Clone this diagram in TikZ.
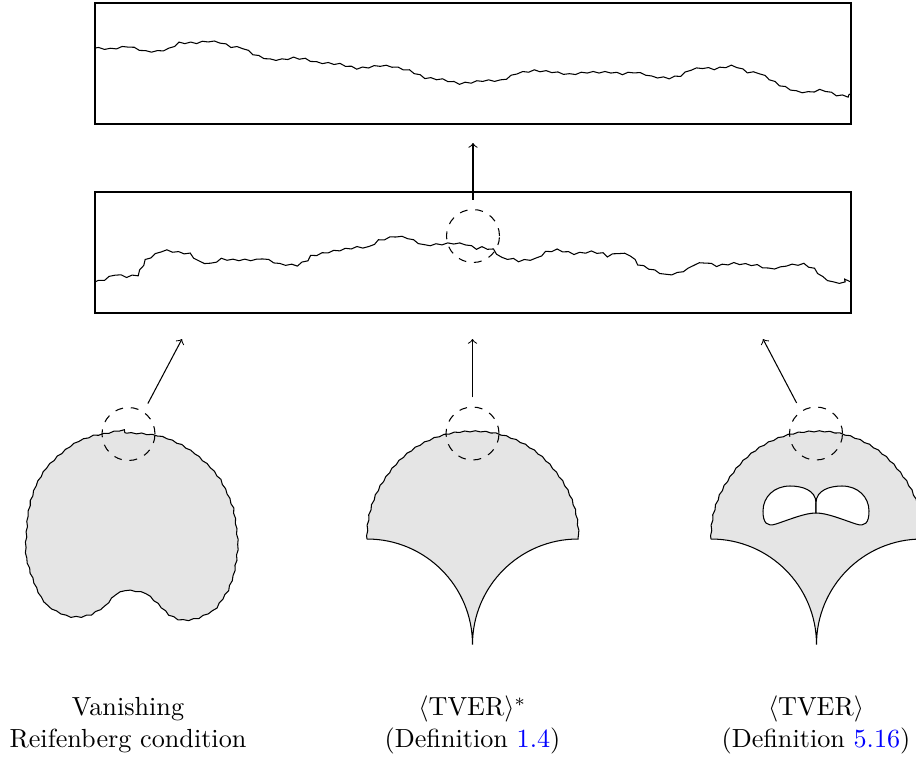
\documentclass[tikz,border=0pt]{standalone}
\usepackage{amsmath}
\usepackage{xcolor}
\usetikzlibrary{decorations.pathmorphing,positioning}
\newcommand{\px}{0.382pt}
\tikzset{
  every node/.style={
    font=\normalsize
  },
  panel/.style={
    shape=rectangle,
    draw,
    inner sep=0pt,
    minimum width={756*\px},
    minimum height={121*\px}
  },
  lens/.style={
    shape=circle,
    draw,
    dashed,
    inner sep=0pt,
    minimum size={53*\px}
  },
  zoomarrow/.style={
    ->,
    shorten <=3.5pt
  },
  region/.style={
    draw,
    fill=black!10
  },
  graphwiggle/.style={
    decoration={snake, amplitude=0.3pt, segment length=4.5pt}
  },
  edgewiggle/.style={
    decoration={snake, amplitude=0.2pt, segment length=4pt}
  },
  caption/.style={
    align=center,
    anchor=base,
    inner sep=0pt
  }
}

\begin{document}
\begin{tikzpicture}[x=\px, y=-\px]
\useasboundingbox (0,0) rectangle (916,758);

\node [panel] (topPanel) at (473,63.5) {};
\node [panel] (midPanel) at (473,252.5) {};

\draw [decorate, graphwiggle] plot coordinates {
  (95,48) (110,49) (123,47) (140,52) (153,52) (167,49) (177,43) (193,43)
  (207,41) (217,42) (227,46) (237,47) (247,53) (257,57) (267,60) (277,60)
  (290,58) (300,59) (310,62) (337,64) (353,68) (363,67) (377,65) (390,66)
  (407,70) (420,76) (440,78) (457,82) (467,81) (480,79) (497,79) (505,76)
  (513,72) (533,69) (547,70) (567,73) (583,71) (610,71) (617,72) (630,70)
  (640,72) (650,76) (663,77) (677,74) (687,68) (700,66) (710,67) (727,64)
  (733,65) (743,70) (757,71) (767,77) (777,83) (790,88) (803,89) (813,87)
  (823,88) (833,92) (851,94)};

\draw [decorate, graphwiggle] plot coordinates {
  (95,282) (103,280) (113,275) (123,277) (137,275) (145,260) (157,253)
  (167,252) (180,254) (188,255) (197,263) (207,265) (220,259) (233,260)
  (253,260) (263,257) (277,262) (293,263) (303,258) (310,250) (323,247)
  (340,244) (353,242) (367,242) (377,235) (393,231) (407,233) (420,239)
  (433,238) (447,237) (460,238) (470,242) (480,240) (490,242) (498,250)
  (508,251) (517,254) (533,252) (543,245) (553,243) (570,247) (587,245)
  (600,247) (607,251) (617,248) (627,250) (637,262) (650,267) (660,271)
  (673,269) (683,265) (690,259) (700,257) (713,261) (727,259) (750,261)
  (763,265) (773,264) (783,260) (797,259) (810,265) (817,272) (827,277)
  (840,277) (851,282)};

% vanishing Reifenberg set
\path [region, decorate, edgewiggle] plot coordinates {
  (128,433) (141,433.5) (153,435) (167,439) (180,445) (191,452) (200,460)
  (209,468) (217,478) (224,492) (230,507) (233,525) (235,543) (233,561)
  (230,577) (226,588) (220,597) (214,606) (207,612) (197,617) (187,619)
  (180,619) (173,618) (163,613) (153,603) (143,594) (133,592) (122,591)
  (113,595) (106,603) (100,610) (90,616) (77,619) (68,619) (60,617) (51,613)
  (43,608) (37,600) (32,590) (27,577) (23,563) (22,548) (23,533) (24,518)
  (27,503) (31,491) (37,480) (44,469) (53,460) (64,451) (77,443) (88,439)
  (100,437) (114,434) (128,433)};

% TVER* set
\path [region] decorate [edgewiggle] {
    plot [domain=180:360, samples=61] ({472.5+105.5*cos(\x)}, {539+105.5*sin(\x)}) }
  arc [start angle=270, end angle=180, radius=105.5]
  arc [start angle=0, end angle=-90, radius=105.5];

% TVER set with holes
\path [region] decorate [edgewiggle] {
    plot [domain=180:360, samples=61] ({816.5+105.5*cos(\x)}, {539+105.5*sin(\x)}) }
  arc [start angle=270, end angle=180, radius=105.5]
  arc [start angle=0, end angle=-90, radius=105.5];
\path [draw, fill=white] (816,513) -- (816,503)
  .. controls (816,490) and (802,486) .. (790,486)
  .. controls (774,486) and (763,497) .. (763,511)
  .. controls (763,523) and (767,527) .. (776,524)
  .. controls (791,519) and (805,513) .. (816,513);
\path [draw, fill=white] (816,513) -- (816,503)
  .. controls (816,490) and (830,486) .. (842,486)
  .. controls (858,486) and (869,497) .. (869,511)
  .. controls (869,523) and (865,527) .. (856,524)
  .. controls (841,519) and (827,513) .. (816,513);

\node [lens] (lensPanel) at (473,236) {};
\node [lens] (lensLeft) at (128.5,434) {};
\node [lens] (lensMid) at (472.5,433.5) {};
\node [lens] (lensRight) at (816,433.5) {};

\coordinate (tipTop) at (473,143);
\coordinate (tipLeft) at (182,339);
\coordinate (tipMid) at (472.5,339);
\coordinate (tipRight) at (763,339);

\draw [zoomarrow] (lensPanel.north) -- (tipTop);
\draw [zoomarrow] (lensLeft.56) -- (tipLeft);
\draw [zoomarrow] (lensMid.north) -- (tipMid);
\draw [zoomarrow] (lensRight.124) -- (tipRight);

\node [caption] (capLeft) at (128,747) {Vanishing\\Reifenberg condition};
\node [caption] (capMid) at (472.5,747) {$\langle\mathrm{TVER}\rangle^*$\\(Definition \textcolor{blue}{1.4})};
\node [caption] (capRight) at (816,747) {$\langle\mathrm{TVER}\rangle$\\(Definition \textcolor{blue}{5.16})};

\end{tikzpicture}
\end{document}
